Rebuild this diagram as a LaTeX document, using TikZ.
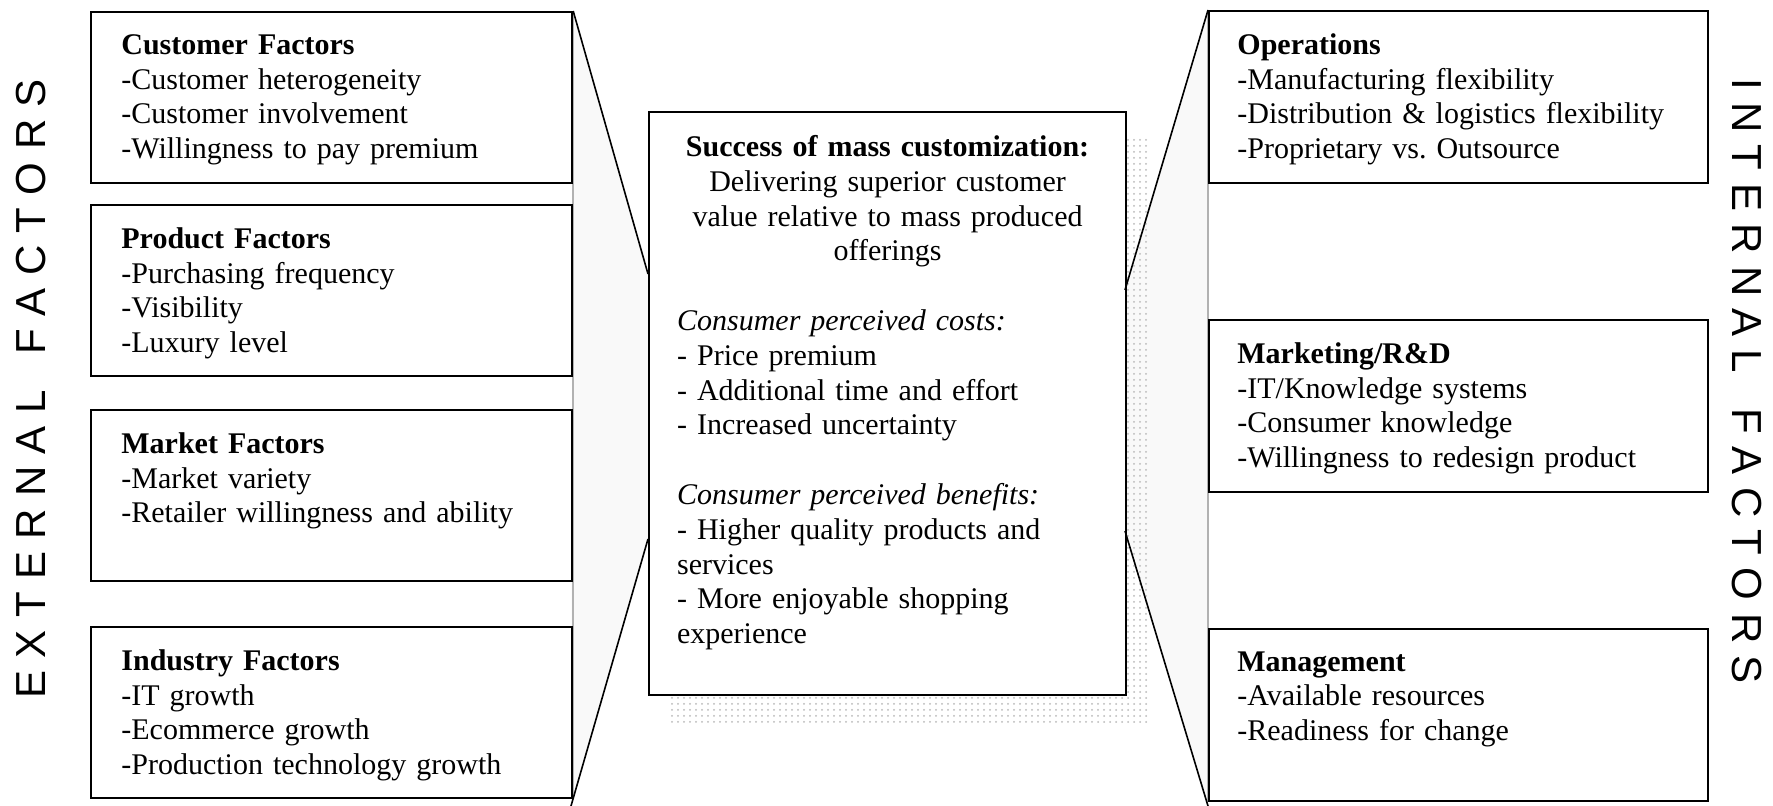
\documentclass[tikz,border=0pt]{standalone}
\usepackage{fontspec}
\setmainfont{Liberation Serif}
\newfontfamily\sidefont{Liberation Sans}
\usetikzlibrary{positioning, calc, patterns, backgrounds}

\newcommand{\lsp}{\hspace{6.2pt}}
\newcommand{\wsp}{\hspace{18pt}}

\tikzset{
    factor/.style={draw, line width=1.1pt, fill=white, anchor=north west, inner sep=0pt},
    leftbox/.style={factor, minimum width=240.5pt, minimum height=85.5pt},
    rightbox/.style={factor, minimum width=249.5pt, minimum height=86pt},
    factortext/.style={inner sep=0pt, text width=225pt, align=left, font=\fontsize{15pt}{17.4pt}\selectfont},
    sidelabel/.style={inner sep=0pt, font=\sidefont\fontsize{21pt}{21pt}\selectfont},
    zoomline/.style={line width=0.8pt},
}

\begin{document}
\frenchspacing
\begin{tikzpicture}[x=0.5pt, y=-0.5pt]
    \useasboundingbox (0,0) rectangle (1773,806);

    % external factors
    \node[leftbox] (customer) at (90,11) {};
    \node[leftbox] (product) at (90,204) {};
    \node[leftbox] (market) at (90,409) {};
    \node[leftbox] (industry) at (90,626) {};

    \node[factortext, below right=11.5pt and 15.5pt of customer.north west] (customer-text)
        {\textbf{Customer Factors}\\ -Customer heterogeneity\\ -Customer involvement\\ -Willingness to pay premium};
    \node[factortext, below right=11.5pt and 15.5pt of product.north west] (product-text)
        {\textbf{Product Factors}\\ -Purchasing frequency\\ -Visibility\\ -Luxury level};
    \node[factortext, below right=11.5pt and 15.5pt of market.north west] (market-text)
        {\textbf{Market Factors}\\ -Market variety\\ -Retailer willingness and ability};
    \node[factortext, below right=11.5pt and 15.5pt of industry.north west] (industry-text)
        {\textbf{Industry Factors}\\ -IT growth\\ -Ecommerce growth\\ -Production technology growth};

    % internal factors
    \node[rightbox] (operations) at (1208,10) {};
    \node[rightbox] (marketing) at (1208,319) {};
    \node[rightbox] (management) at (1208,628) {};

    \node[factortext, below right=11.5pt and 14.5pt of operations.north west] (operations-text)
        {\textbf{Operations}\\ -Manufacturing flexibility\\ -Distribution \& logistics flexibility\\ -Proprietary vs.\ Outsource};
    \node[factortext, below right=11.5pt and 14.5pt of marketing.north west] (marketing-text)
        {\textbf{Marketing/R\&D}\\ -IT/Knowledge systems\\ -Consumer knowledge\\ -Willingness to redesign product};
    \node[factortext, below right=11.5pt and 14.5pt of management.north west] (management-text)
        {\textbf{Management}\\ -Available resources\\ -Readiness for change};

    % success in the middle
    \node[factor, minimum width=238.5pt, minimum height=291.5pt] (centre) at (648,111) {};
    \node[factortext, text width=210.5pt, below=12pt of centre.north] (centre-text)
        {{\centering\textbf{Success of mass customization:}\\ Delivering superior customer\\ value relative to mass produced\\ offerings\par}
         \vspace{17.4pt}
         \textit{Consumer perceived costs:}\\ - Price premium\\ - Additional time and effort\\ - Increased uncertainty\par
         \vspace{17.4pt}
         \textit{Consumer perceived benefits:}\\ - Higher quality products and\\ services\\ - More enjoyable shopping\\ experience};

    % side labels
    \node[sidelabel, rotate=90] (external) at (31,389)
        {E\lsp X\lsp T\lsp E\lsp R\lsp N\lsp A\lsp L\wsp F\lsp A\lsp C\lsp T\lsp O\lsp R\lsp S};
    \node[sidelabel, rotate=-90] (internal) at (1747,381)
        {I\lsp N\lsp T\lsp E\lsp R\lsp N\lsp A\lsp L\wsp F\lsp A\lsp C\lsp T\lsp O\lsp R\lsp S};

    \coordinate (left-top) at (648,274);
    \coordinate (left-bot) at (648,539);
    \coordinate (left-end) at (571,806);
    \coordinate (right-top) at (1125,290);
    \coordinate (right-bot) at (1125,531);
    \coordinate (right-end) at (1208,806);

    \draw[zoomline] (customer.north east) -- (left-top);
    \draw[zoomline] (left-bot) -- (left-end);
    \draw[zoomline] (operations.north west) -- (right-top);
    \draw[zoomline] (right-bot) -- (right-end);

    \begin{scope}[on background layer]
        \fill[white] (0,0) rectangle (1773,806);
        \fill[gray!5] (customer.north east) -- (left-top) -- (left-bot) -- (left-end) -- cycle;
        \fill[gray!5] (operations.north west) -- (right-top) -- (right-bot) -- (right-end) -- cycle;
        \draw[gray!60, line width=1.2pt] (customer.north east) -- (industry.south east);
        \draw[gray!60, line width=1.2pt] (operations.north west) -- (management.south west);
        \fill[pattern=dots, pattern color=gray!55]
            ([shift={(22,26)}]centre.north west) rectangle ([shift={(22,26)}]centre.south east);
    \end{scope}

\end{tikzpicture}
\end{document}
